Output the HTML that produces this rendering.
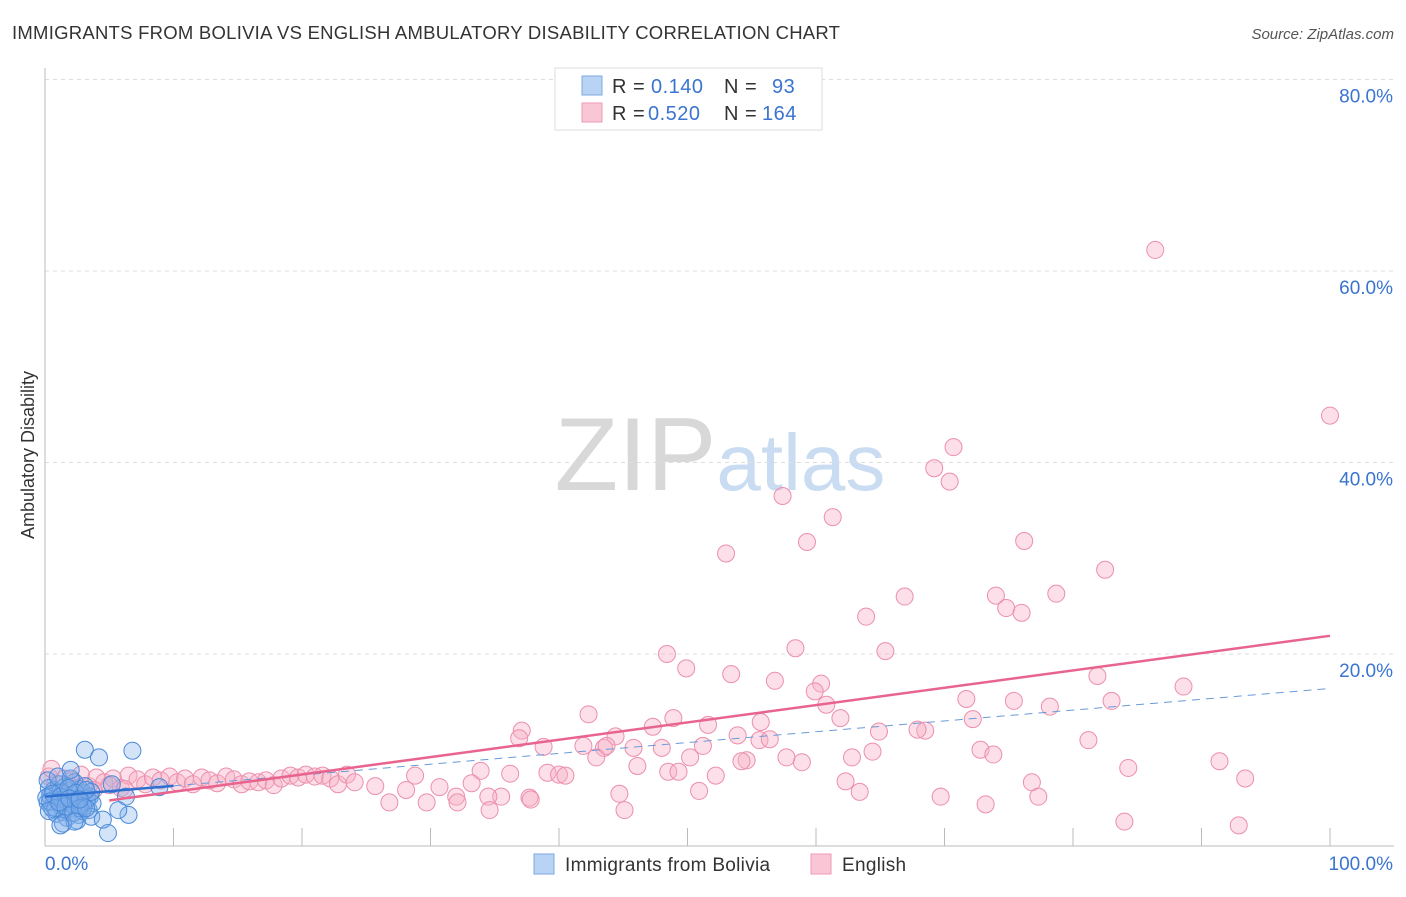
<!DOCTYPE html>
<html><head><meta charset="utf-8"><style>
body{margin:0;background:#fff;font-family:"Liberation Sans",sans-serif}
svg text{font-family:"Liberation Sans",sans-serif}
</style></head><body>
<svg id="chart" width="1406" height="892" xmlns="http://www.w3.org/2000/svg">
<text x="12" y="39" font-size="18.5" letter-spacing="0.25" fill="#333">IMMIGRANTS FROM BOLIVIA VS ENGLISH AMBULATORY DISABILITY CORRELATION CHART</text>
<text x="1394" y="39" font-size="15" fill="#555" font-style="italic" text-anchor="end">Source: ZipAtlas.com</text>
<text x="720" y="490" font-size="104" text-anchor="middle" fill="#ddd" font-family="Liberation Serif"><tspan fill="#d8d8d8">ZIP</tspan><tspan fill="#c9dcf2" font-family="Liberation Sans" font-size="80">atlas</tspan></text>
<text transform="translate(34,455) rotate(-90)" font-size="18" fill="#333" text-anchor="middle">Ambulatory Disability</text>
<g id="grid"></g><g id="axes"></g><g id="pts"></g><g id="lines"></g>
<g>
<rect x="555" y="68" width="267" height="62" fill="#fff" stroke="#ddd"/>
<rect x="582" y="76" width="20" height="19" fill="#b9d3f5" stroke="#7aa7e3"/>
<rect x="582" y="103" width="20" height="19" fill="#f9c6d5" stroke="#ee9ab5"/>
<text x="612" y="93" font-size="20" letter-spacing="0.5" fill="#333">R = <tspan x="651" fill="#3a74d0">0.140</tspan><tspan x="724">N =</tspan><tspan x="772" fill="#3a74d0">93</tspan></text>
<text x="612" y="120" font-size="20" letter-spacing="0.5" fill="#333">R = <tspan x="648" fill="#3a74d0">0.520</tspan><tspan x="724">N =</tspan><tspan x="762" fill="#3a74d0">164</tspan></text>
</g>
<g>
<rect x="534" y="854" width="20" height="20" fill="#b9d3f5" stroke="#7aa7e3"/>
<text x="565" y="871" font-size="19" letter-spacing="0.3" fill="#333">Immigrants from Bolivia</text>
<rect x="811" y="854" width="20" height="20" fill="#f9c6d5" stroke="#ee9ab5"/>
<text x="842" y="871" font-size="19" letter-spacing="0.3" fill="#333">English</text>
</g>
</svg>
<script>
const yTicks=[20,40,60,80];
const yTickLabels=["20.0%","40.0%","60.0%","80.0%"];
const xTickLabels=["0.0%","100.0%"];
const pinkX=[86.4,100.0,70.7,69.2,70.4,57.4,61.3,59.3,76.2,53.0,82.5,66.9,74.0,78.7,74.8,76.0,63.9,48.4,58.4,65.4,49.9,53.4,81.9,56.8,60.4,59.9,88.6,71.7,75.4,60.8,83.0,78.2,72.2,61.9,42.3,48.9,51.6,37.1,55.7,47.3,64.9,68.5,67.9,44.4,53.9,81.2,55.6,56.4,36.9,38.8,41.9,43.5,43.7,51.2,45.8,48.0,72.8,73.8,64.4,50.2,57.7,62.8,54.6,54.2,42.9,46.1,58.9,91.4,84.3,48.5,49.3,39.1,40.0,40.5,33.9,36.2,52.2,93.4,76.8,62.3,28.8,30.7,33.2,37.7,32.0,35.5,34.5,44.7,77.3,69.7,50.9,73.2,63.4,29.7,32.1,25.7,26.8,28.1,45.1,84.0,92.9,34.6,37.8,0.3,0.8,1.5,2.1,2.8,3.4,4.0,4.6,5.3,5.9,6.5,7.2,7.8,8.4,9.0,9.7,10.3,10.9,11.5,12.2,12.8,13.4,14.1,14.7,15.3,15.9,16.6,17.2,17.8,18.4,19.1,19.7,20.3,21.0,21.6,22.2,22.8,23.5,24.1,0.5,1.2,2.5,3.8,5.0,6.2];
const pinkY=[62.2,44.9,41.6,39.4,38.0,36.5,34.3,31.7,31.8,30.5,28.8,26.0,26.1,26.3,24.8,24.3,23.9,20.0,20.6,20.3,18.5,17.9,17.7,17.2,16.9,16.1,16.6,15.3,15.1,14.7,15.1,14.5,13.2,13.3,13.7,13.3,12.6,12.0,12.9,12.4,11.9,12.0,12.1,11.4,11.5,11.0,11.0,11.1,11.2,10.3,10.4,10.2,10.4,10.4,10.2,10.2,10.0,9.5,9.8,9.2,9.2,9.2,8.9,8.8,9.2,8.3,8.7,8.8,8.1,7.7,7.7,7.6,7.4,7.3,7.8,7.5,7.3,7.0,6.6,6.7,7.3,6.1,6.5,5.0,5.1,5.1,5.1,5.4,5.1,5.1,5.7,4.3,5.6,4.5,4.5,6.2,4.5,5.8,3.7,2.5,2.1,3.7,4.8,7.2,6.5,7.0,6.8,7.4,6.2,7.1,6.6,7.0,6.0,7.3,6.9,6.4,7.1,6.8,7.2,6.6,7.0,6.4,7.1,6.8,6.5,7.2,6.9,6.4,6.7,6.6,6.8,6.3,7.0,7.3,7.1,7.4,7.2,7.3,7.0,6.4,7.4,6.6,8.0,5.5,6.0,5.8,6.3,5.9];
const blueX=[0.2,0.4,0.6,0.8,1.0,1.2,1.4,1.6,1.8,2.0,2.2,2.4,2.6,2.8,3.0,3.2,3.4,0.3,0.7,1.1,1.5,1.9,2.3,2.7,3.1,3.5,0.5,0.9,1.3,1.7,2.1,2.5,2.9,3.3,3.7,0.1,0.2,1.0,2.0,1.4,0.6,1.2,1.8,2.4,3.0,3.6,0.4,0.8,1.6,2.2,2.6,3.2,0.3,1.1,1.9,2.7,3.1,4.2,2.0,6.8,4.9,6.5,6.3,3.6,4.5,5.7,3.2,2.7,8.9,5.2,2.3,1.2];
const blueY=[4.5,5.2,3.8,4.9,5.6,4.2,3.5,5.0,4.4,3.9,5.3,4.7,3.2,4.1,5.5,4.6,3.7,6.0,5.8,6.4,6.1,5.7,6.6,5.9,6.2,5.1,4.0,3.3,4.8,2.9,4.3,2.6,3.6,4.9,4.4,5.0,6.8,7.2,7.0,2.3,5.4,5.1,6.0,5.5,4.0,5.6,4.6,3.9,4.1,3.4,4.8,5.8,3.6,4.5,4.9,3.9,10.0,9.2,7.9,9.9,1.3,3.2,5.1,3.0,2.7,3.7,3.9,4.8,6.1,6.4,2.5,2.1];
const pinkTrend=[3.8,21.9];
const blueTrend=[5.1,16.4];
const NS="http://www.w3.org/2000/svg";
const sx=v=>45+v*12.85, sy=v=>845.5-v*9.575;
function mk(tag,attrs,parent){const e=document.createElementNS(NS,tag);for(const k in attrs)e.setAttribute(k,attrs[k]);parent.appendChild(e);return e;}
const grid=document.getElementById('grid'),axes=document.getElementById('axes'),pts=document.getElementById('pts'),lines=document.getElementById('lines');
yTicks.forEach((t,i)=>{
 const l=mk('line',{x1:45,x2:1394,y1:sy(t),y2:sy(t),stroke:'#ddd','stroke-dasharray':'4,4'},grid);
 
 
 const tx=mk('text',{x:1393,y:sy(t)+23,'font-size':19,fill:'#3a74d0','text-anchor':'end'},axes);
 tx.textContent=yTickLabels[i];
 
 
});
const ya=mk('line',{x1:45,x2:45,y1:68,y2:846,stroke:'#bbb'},axes);


const xa=mk('line',{x1:45,x2:1394,y1:846,y2:846,stroke:'#bbb'},axes);


for(let p=10;p<=100;p+=10){const t=mk('line',{x1:sx(p),x2:sx(p),y1:828,y2:846,stroke:'#bbb'},axes);
 
 }
const xl0=mk('text',{x:45,y:870,'font-size':19,fill:'#3a74d0'},axes);xl0.textContent=xTickLabels[0];


const xl1=mk('text',{x:1393,y:870,'font-size':19,fill:'#3a74d0','text-anchor':'end'},axes);xl1.textContent=xTickLabels[1];


pinkX.forEach((x,i)=>{const c=mk('circle',{cx:sx(x),cy:sy(pinkY[i]),r:8.5,fill:'rgba(248,175,198,0.4)',stroke:'#ec8fad','stroke-width':1},pts);
 
 });
blueX.forEach((x,i)=>{const c=mk('circle',{cx:sx(x),cy:sy(blueY[i]),r:8.5,fill:'rgba(130,175,235,0.35)',stroke:'#4a8ad8','stroke-width':1},pts);
 
 });
const bAt=p=>blueTrend[0]+(blueTrend[1]-blueTrend[0])*p/100;
const bl1=mk('line',{x1:sx(0),y1:sy(bAt(0)),x2:sx(10),y2:sy(bAt(10)),stroke:'#2f6fd0','stroke-width':2.5},lines);


const bl2=mk('line',{x1:sx(10),y1:sy(bAt(10)),x2:sx(100),y2:sy(bAt(100)),stroke:'#6a9ad8','stroke-width':1,'stroke-dasharray':'8,6'},lines);


const pl=mk('line',{x1:sx(5),y1:sy(pinkTrend[0]+(pinkTrend[1]-pinkTrend[0])*0.05),x2:sx(100),y2:sy(pinkTrend[1]),stroke:'#e8648e','stroke-width':2.5},lines);


</script>
</body></html>
